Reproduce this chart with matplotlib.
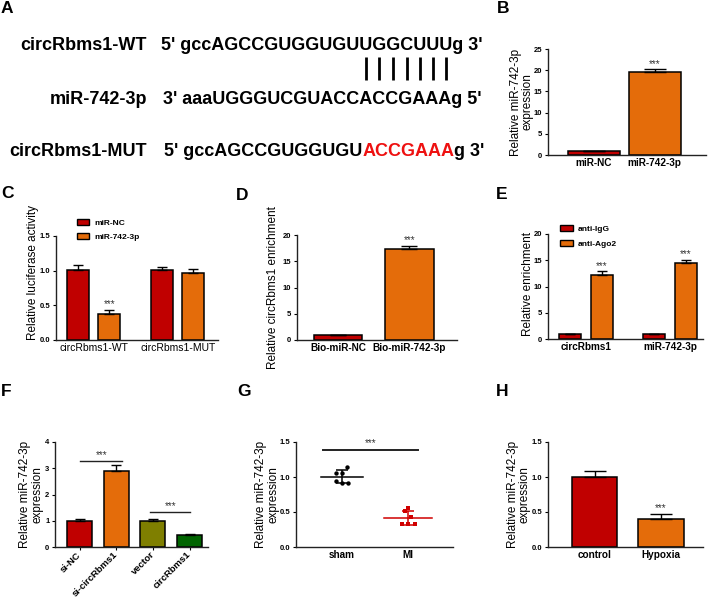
import matplotlib
matplotlib.use("Agg")
import matplotlib.pyplot as plt
import numpy as np
from matplotlib.patches import Patch
from matplotlib.font_manager import FontProperties

plt.rcParams['font.family'] = ['Liberation Sans', 'DejaVu Sans']

# ---------------- data ----------------
# Panel A (sequences)
a_labels = ["circRbms1-WT", "miR-742-3p", "circRbms1-MUT"]
a_wt_seq = "5' gccAGCCGUGGUGUUGGCUUUg 3'"
a_mir_seq = "3' aaaUGGGUCGUACCACCGAAAg 5'"
a_mut_parts = ["5' gccAGCCGUGGUGU", "ACCGAAA", "g 3'"]
a_pair_site = "UGGCUUU"

# Panel B
b_groups = ["miR-NC", "miR-742-3p"]
b_means = [1.0, 19.6]
b_err = [0.0, 0.6]

# Panel C
c_groups = ["circRbms1-WT", "circRbms1-MUT"]
c_series = ["miR-NC", "miR-742-3p"]
c_nc = [1.01, 1.01]
c_nc_err = [0.07, 0.04]
c_mir = [0.37, 0.96]
c_mir_err = [0.06, 0.06]

# Panel D
d_groups = ["Bio-miR-NC", "Bio-miR-742-3p"]
d_means = [1.0, 17.3]
d_err = [0.0, 0.7]

# Panel E
e_groups = ["circRbms1", "miR-742-3p"]
e_series = ["anti-IgG", "anti-Ago2"]
e_igg = [1.0, 1.0]
e_igg_err = [0.0, 0.0]
e_ago = [12.1, 14.45]
e_ago_err = [0.8, 0.65]

# Panel F
f_groups = ["si-NC", "si-circRbms1", "vector", "circRbms1"]
f_means = [1.0, 2.88, 1.0, 0.47]
f_err = [0.08, 0.23, 0.05, 0.03]

# Panel G (individual points)
g_groups = ["sham", "MI"]
g_sham = [1.136, 1.054, 1.054, 0.944, 0.911, 0.920]
g_sham_dx = [0.08, -0.09, 0.0, -0.10, 0.0, 0.09]
g_mi = [0.561, 0.513, 0.431, 0.335, 0.335, 0.335]
g_mi_dx = [0.0, -0.05, 0.05, -0.10, 0.0, 0.10]

# Panel H
h_groups = ["control", "Hypoxia"]
h_means = [1.0, 0.405]
h_err = [0.085, 0.07]

# ---------------- style ----------------
RED = "#C00000"
ORANGE = "#E46C0A"
OLIVE = "#7F7F00"
GREEN = "#006400"
MIRED = "#D00000"
STAR = "#333333"

W, H = 708, 603
fig = plt.figure(figsize=(W / 100, H / 100), dpi=100)


def rect(x0, y0, x1, y1):
    return [x0 / W, 1 - y1 / H, (x1 - x0) / W, (y1 - y0) / H]


def style(ax, ylim, yticks, fmt):
    for s in ['top', 'right']:
        ax.spines[s].set_visible(False)
    for s in ['left', 'bottom']:
        ax.spines[s].set_linewidth(1.0)
        ax.spines[s].set_color('#222222')
    ax.set_ylim(*ylim)
    ax.set_yticks(yticks)
    ax.set_yticklabels([fmt.format(v) for v in yticks], fontweight='bold')
    ax.tick_params(axis='y', labelsize=5.5, width=0.8, length=2.5, pad=1.5)
    ax.tick_params(axis='x', labelsize=7.2, length=0, pad=2.5)
    for lab in ax.get_xticklabels():
        lab.set_fontweight('bold')


def bars(ax, x, h, err, color, width, cap):
    ax.bar(x, h, width, color=color, edgecolor='black', linewidth=1.1, zorder=2)
    ax.errorbar(x, h, yerr=[np.zeros(len(h)), err], fmt='none', ecolor='black',
                elinewidth=1.0, capsize=cap, capthick=1.0, zorder=3)


def stars(ax, x, y, size=7):
    ax.annotate('***', xy=(x, y), xytext=(0, 0.5), textcoords='offset points',
                ha='center', va='bottom', fontsize=size, color=STAR)


def ylab(ax, text, x, y=0.5):
    ax.set_ylabel(text, fontsize=8.5, linespacing=1.0)
    ax.yaxis.set_label_coords(x, y)


# ---------------- panel A ----------------
axA = fig.add_axes([0, 0, 1, 1], zorder=-1)
axA.axis('off')
axA.set_xlim(0, W)
axA.set_ylim(H, 0)
fsA = 13
rows_y = [45, 100, 152]
seq_x = [161, 163, 164]
for lab, y in zip(a_labels, rows_y):
    axA.text(147, y, lab, ha='right', va='center', fontsize=fsA, fontweight='bold')
axA.text(seq_x[0], rows_y[0], a_wt_seq, ha='left', va='center', fontsize=fsA, fontweight='bold')
axA.text(seq_x[1], rows_y[1], a_mir_seq, ha='left', va='center', fontsize=fsA, fontweight='bold')
t = axA.text(seq_x[2], rows_y[2], a_mut_parts[0], ha='left', va='center', fontsize=fsA,
             fontweight='bold')
t = axA.annotate(a_mut_parts[1], xy=(1, 0), xycoords=t, va='bottom', ha='left',
                 fontsize=fsA, fontweight='bold', color='#EE1111')
axA.annotate(a_mut_parts[2], xy=(1, 0), xycoords=t, va='bottom', ha='left',
             fontsize=fsA, fontweight='bold')

# base-pairing bars, located from the WT text layout
renderer = fig.canvas.get_renderer()
fp = FontProperties(family=['Liberation Sans'], weight='bold', size=fsA)


def tw(s):
    w, h, d = renderer.get_text_width_height_descent(s, fp, ismath=False)
    return w


i0 = a_wt_seq.index(a_pair_site + "g")
for k in range(len(a_pair_site)):
    i = i0 + k
    xc = seq_x[0] + tw(a_wt_seq[:i]) + tw(a_wt_seq[i]) / 2
    axA.plot([xc, xc], [57, 80], color='black', lw=2.0, solid_capstyle='butt')

# panel letters
for L, (x, y) in zip("ABCDEFGH", [(1, 1), (497, 1), (1, 186), (236, 188), (496, 187),
                                  (1, 384), (237, 384), (496, 384)]):
    axA.text(x, y, L, ha='left', va='top', fontsize=12.5, fontweight='bold')

# ---------------- panel B ----------------
axB = fig.add_axes(rect(548, 49, 706, 155))
xb = np.arange(len(b_groups))
bars(axB, xb, b_means, b_err, [RED, ORANGE], 0.85, 8)
axB.set_xlim(-0.75, 1.84)
axB.set_xticks(xb)
axB.set_xticklabels(b_groups)
style(axB, (0, 25), [0, 5, 10, 15, 20, 25], "{:g}")
stars(axB, 1, b_means[1] + b_err[1])
ylab(axB, "Relative miR-742-3p\nexpression", -0.09)

# ---------------- panel C ----------------
axC = fig.add_axes(rect(56, 236, 218, 340))
xc_ = np.arange(len(c_groups))
off, bw = 0.185, 0.26
bars(axC, xc_ - off, c_nc, c_nc_err, RED, bw, 3.3)
bars(axC, xc_ + off, c_mir, c_mir_err, ORANGE, bw, 3.3)
axC.set_xlim(-0.45, 1.48)
axC.set_xticks(xc_)
axC.set_xticklabels(c_groups)
style(axC, (0, 1.5), [0.0, 0.5, 1.0, 1.5], "{:.1f}")
for lab in axC.get_xticklabels():
    lab.set_fontweight('normal')
    lab.set_fontsize(7.5)
stars(axC, xc_[0] + off, c_mir[0] + c_mir_err[0])
ylab(axC, "Relative luciferase activity", -0.105, 0.65)
hC = [Patch(facecolor=RED, edgecolor='black', linewidth=1.0, label=c_series[0]),
      Patch(facecolor=ORANGE, edgecolor='black', linewidth=1.0, label=c_series[1])]
axC.legend(handles=hC, loc='upper left', bbox_to_anchor=(0.13, 1.16), frameon=False,
           prop={'size': 6, 'weight': 'bold'}, handlelength=1.45, handleheight=0.75,
           handletextpad=0.6, labelspacing=0.7, borderaxespad=0, borderpad=0)

# ---------------- panel D ----------------
axD = fig.add_axes(rect(297, 235, 457, 340))
xd = np.arange(len(d_groups))
bars(axD, xd, d_means, d_err, [RED, ORANGE], 0.68, 6)
axD.set_xlim(-0.58, 1.67)
axD.set_xticks(xd)
axD.set_xticklabels(d_groups)
style(axD, (0, 20), [0, 5, 10, 15, 20], "{:g}")
stars(axD, 1, d_means[1] + d_err[1])
ylab(axD, "Relative circRbms1 enrichment", -0.11)

# ---------------- panel E ----------------
axE = fig.add_axes(rect(548, 234, 703, 339))
xe = np.arange(len(e_groups))
off, bw = 0.1875, 0.26
bars(axE, xe - off, e_igg, e_igg_err, RED, bw, 3.3)
bars(axE, xe + off, e_ago, e_ago_err, ORANGE, bw, 3.3)
axE.set_xlim(-0.45, 1.39)
axE.set_xticks(xe)
axE.set_xticklabels(e_groups)
style(axE, (0, 20), [0, 5, 10, 15, 20], "{:g}")
for j in range(len(e_groups)):
    stars(axE, xe[j] + off, e_ago[j] + e_ago_err[j])
ylab(axE, "Relative enrichment", -0.09, 0.52)
hE = [Patch(facecolor=RED, edgecolor='black', linewidth=1.0, label=e_series[0]),
      Patch(facecolor=ORANGE, edgecolor='black', linewidth=1.0, label=e_series[1])]
axE.legend(handles=hE, loc='upper left', bbox_to_anchor=(0.077, 1.09), frameon=False,
           prop={'size': 6, 'weight': 'bold'}, handlelength=1.55, handleheight=0.8,
           handletextpad=0.6, labelspacing=0.85, borderaxespad=0, borderpad=0)

# ---------------- panel F ----------------
axF = fig.add_axes(rect(55, 442, 208, 547))
xf = np.arange(len(f_groups))
bars(axF, xf, f_means, f_err, [RED, ORANGE, OLIVE, GREEN], 0.68, 3.5)
axF.set_xlim(-0.67, 3.5)
axF.set_xticks(xf)
axF.set_xticklabels(f_groups, rotation=45, ha='right', va='center',
                    rotation_mode='anchor')
style(axF, (0, 4), [0, 1, 2, 3, 4], "{:g}")
axF.tick_params(axis='x', length=2.5, width=0.8, pad=2, labelsize=6.8)
axF.plot([0.0, 1.15], [3.26, 3.26], color='#222222', lw=1.0)
axF.text(0.6, 3.3, '***', ha='center', va='bottom', fontsize=7, color=STAR)
axF.plot([1.92, 3.02], [1.32, 1.32], color='#222222', lw=1.0)
axF.text(2.47, 1.36, '***', ha='center', va='bottom', fontsize=7, color=STAR)
ylab(axF, "Relative miR-742-3p\nexpression", -0.078)

# ---------------- panel G ----------------
axG = fig.add_axes(rect(296, 442, 453, 547))
xg = np.arange(len(g_groups))
for x, vals, dx, col, mk, half in [(xg[0], g_sham, g_sham_dx, 'black', 'o', 0.32),
                                   (xg[1], g_mi, g_mi_dx, MIRED, 's', 0.36)]:
    vals = np.asarray(vals)
    m, sd = vals.mean(), vals.std(ddof=1)
    axG.scatter(x + np.asarray(dx), vals, s=10, color=col, marker=mk, zorder=3,
                linewidths=0)
    axG.plot([x - half, x + half], [m, m], color=col, lw=1.1, zorder=2)
    axG.errorbar([x], [m], yerr=[sd], fmt='none', ecolor=col, elinewidth=1.1,
                 capsize=4, capthick=1.1, zorder=2)
axG.set_xlim(-0.70, 1.68)
axG.set_xticks(xg)
axG.set_xticklabels(g_groups)
style(axG, (0, 1.5), [0.0, 0.5, 1.0, 1.5], "{:.1f}")
axG.plot([-0.29, 1.15], [1.38, 1.38], color='#222222', lw=1.4)
axG.text(0.43, 1.41, '***', ha='center', va='bottom', fontsize=7, color=STAR)
ylab(axG, "Relative miR-742-3p\nexpression", -0.108)

# ---------------- panel H ----------------
axH = fig.add_axes(rect(548, 442, 703, 547))
xh = np.arange(len(h_groups))
bars(axH, xh, h_means, h_err, [RED, ORANGE], 0.68, 8)
axH.set_xlim(-0.70, 1.63)
axH.set_xticks(xh)
axH.set_xticklabels(h_groups)
style(axH, (0, 1.5), [0.0, 0.5, 1.0, 1.5], "{:.1f}")
stars(axH, 1, h_means[1] + h_err[1])
ylab(axH, "Relative miR-742-3p\nexpression", -0.11)

fig.savefig("out.png", dpi=100)
